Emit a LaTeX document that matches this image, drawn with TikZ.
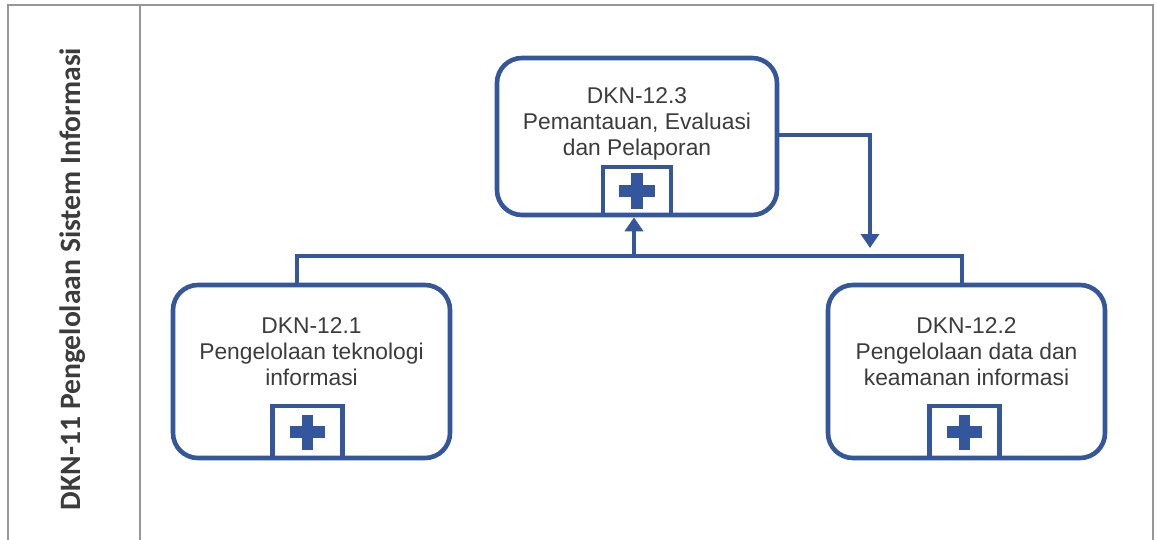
\documentclass[tikz,border=0pt]{standalone}
\usepackage{fontspec}
\setmainfont{Liberation Sans}
\newfontfamily\titlefont{Carlito}
\usetikzlibrary{arrows.meta}
\definecolor{bpmnblue}{RGB}{52,86,156}
\definecolor{txtgray}{RGB}{60,60,60}
\definecolor{framegray}{RGB}{150,150,150}
\tikzset{
  procbox/.style={draw=bpmnblue, line width=2.3pt, rounded corners=12.5pt, fill=white,
    minimum width=138.5pt, minimum height=86.5pt, inner sep=0pt},
  proctext/.style={text=txtgray, align=center, font=\fontsize{11.4pt}{13pt}\selectfont, inner sep=0pt},
  marker/.style={draw=bpmnblue, line width=2.2pt, minimum width=35pt, minimum height=26pt, inner sep=0pt, anchor=south,
    path picture={
      \fill[bpmnblue] ([xshift=-8.8pt,yshift=-2.9pt]path picture bounding box.center) rectangle ++(17.6pt,5.8pt);
      \fill[bpmnblue] ([xshift=-2.9pt,yshift=-8.8pt]path picture bounding box.center) rectangle ++(5.8pt,17.6pt);
    }},
  conn/.style={draw=bpmnblue, line width=2.2pt},
  arr/.style={conn, -{Triangle[width=9pt,length=7pt]}},
  frameline/.style={draw=framegray, line width=0.7pt}
}
\begin{document}
\begin{tikzpicture}[x=0.5pt,y=-0.5pt]
\useasboundingbox (0,0) rectangle (1157,540);
% frame
\coordinate (fa) at (8,542);
\coordinate (fb) at (8,5);
\coordinate (fc) at (1153,5);
\coordinate (fd) at (1153,542);
\coordinate (da) at (140,5);
\coordinate (db) at (140,542);
\draw[frameline] (fa) -- (fb) -- (fc) -- (fd);
\draw[frameline] (da) -- (db);
\node[rotate=90, text=txtgray, font=\titlefont\bfseries\fontsize{14.8pt}{16pt}\selectfont] (title) at (73,279) {DKN-11 Pengelolaan Sistem Informasi};
% boxes
\node[procbox, minimum width=140pt, minimum height=78.5pt] (p3) at (637,136.5) {};
\node[procbox] (p1) at (311.5,371.5) {};
\node[procbox] (p2) at (966.5,371.5) {};
\node[proctext] (t3) at (637,124) {DKN-12.3\\Pemantauan, Evaluasi\\dan Pelaporan};
\node[proctext] (t1) at (311.5,352) {DKN-12.1\\Pengelolaan teknologi\\informasi};
\node[proctext] (t2) at (966.5,352) {DKN-12.2\\Pengelolaan data dan\\keamanan informasi};
\node[marker, minimum width=34pt, minimum height=24pt] (m3) at (p3.south) {};
\node[marker] (m1) at ([xshift=-2pt]p1.south) {};
\node[marker] (m2) at ([xshift=-1pt]p2.south) {};
% connectors
\coordinate (j1) at (297,256);
\coordinate (j2) at (962,256);
\coordinate (jm) at (634,256);
\coordinate (rt) at (870,135);
\coordinate (rb) at (870,248);
\draw[conn] (p1.north -| j1) -- (j1) -- (j2) -- (p2.north -| j2);
\draw[arr] (jm) -- (m3.south -| jm);
\draw[arr] (p3.east |- rt) -- (rt) -- (rb);
\end{tikzpicture}
\end{document}
